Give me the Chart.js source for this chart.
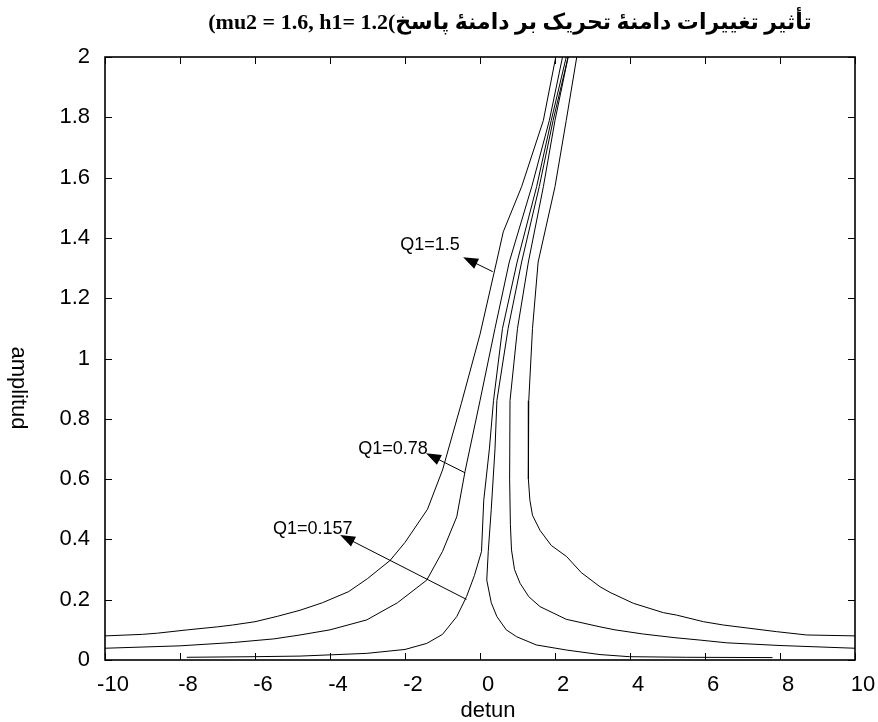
<!DOCTYPE html>
<html>
<head>
<meta charset="utf-8">
<title>amplitud - detun</title>
<script src="https://cdn.jsdelivr.net/npm/chart.js@4.4.1/dist/chart.umd.min.js"></script>
<style>
    html, body { margin: 0; padding: 0; background: #fff; }
</style>
</head>
<body>
<canvas id="response-chart" width="878" height="722"></canvas>
<script>
// Q1 = 1.5, left branch
const q15LeftX = [-10, -9, -8.6, -7.8, -7, -6.6, -6, -5.4, -4.8, -4.2, -3.5, -3, -2.4, -2, -1.4, -1, -0.5, 0, 0.44, 0.62, 1.11, 1.69, 2.02];
const q15LeftY = [0.08, 0.085, 0.089, 0.1, 0.11, 0.116, 0.127, 0.145, 0.165, 0.19, 0.227, 0.27, 0.33, 0.39, 0.5, 0.63, 0.85, 1.08, 1.32, 1.42, 1.57, 1.79, 2.0];

// Q1 = 0.78, left branch
const q078LeftX = [-10, -8, -6.58, -5.5, -4.8, -4, -3.02, -2.2, -1.42, -1, -0.62, -0.4, 0, 0.4, 0.78, 1.38, 1.85, 2.2];
const q078LeftY = [0.039, 0.047, 0.058, 0.07, 0.083, 0.1, 0.133, 0.19, 0.265, 0.36, 0.475, 0.625, 0.86, 1.1, 1.32, 1.57, 1.79, 2.0];

// Q1 = 0.157, left branch
const q0157LeftX = [-7.82, -6, -4.8, -3.02, -2, -1.42, -1, -0.62, -0.36, -0.15, 0.04, 0.1, 0.25, 0.36, 0.6, 0.99, 1.51, 1.9, 2.3];
const q0157LeftY = [0.009, 0.011, 0.013, 0.022, 0.035, 0.055, 0.085, 0.144, 0.21, 0.28, 0.36, 0.53, 0.7, 0.86, 1.1, 1.32, 1.57, 1.79, 2.0];

// Q1 = 0.157, right branch (from the top down)
const q0157RightX = [2.35, 1.95, 1.58, 1.11, 0.75, 0.45, 0.4, 0.3, 0.22, 0.18, 0.3, 0.45, 0.7, 0.98, 1.5, 2.31, 3.2, 3.98, 5.5, 7.8];
const q0157RightY = [2.0, 1.79, 1.57, 1.32, 1.1, 0.86, 0.7, 0.5, 0.36, 0.265, 0.19, 0.144, 0.1, 0.077, 0.05, 0.033, 0.018, 0.011, 0.009, 0.008];

// Q1 = 0.78, right branch
const q078RightX = [2.35, 2.0, 1.69, 1.29, 1.0, 0.8, 0.79, 0.81, 0.84, 0.92, 1.07, 1.3, 1.6, 2.3, 3.2, 3.6, 4.36, 5.2, 5.87, 6.58, 8, 10];
const q078RightY = [2.0, 1.79, 1.57, 1.32, 1.1, 0.86, 0.6, 0.45, 0.365, 0.3, 0.254, 0.21, 0.177, 0.135, 0.11, 0.1, 0.086, 0.074, 0.066, 0.057, 0.048, 0.039];

// Q1 = 1.5, right branch
const q15RightX = [2.58, 2.3, 2.0, 1.55, 1.4, 1.3, 1.29, 1.33, 1.4, 1.6, 1.9, 2.31, 2.7, 3.2, 3.47, 4.09, 4.89, 5.24, 5.96, 6.49, 7.2, 7.91, 8.71, 10];
const q15RightY = [2.0, 1.79, 1.57, 1.32, 1.1, 0.86, 0.6, 0.53, 0.48, 0.43, 0.38, 0.343, 0.29, 0.243, 0.224, 0.188, 0.157, 0.149, 0.127, 0.116, 0.105, 0.094, 0.083, 0.08];

const xTicks = [-10, -8, -6, -4, -2, 0, 2, 4, 6, 8, 10];
const yTicks = [0, 0.2, 0.4, 0.6, 0.8, 1, 1.2, 1.4, 1.6, 1.8, 2];

const titleLatin = '(mu2 = 1.6, h1= 1.2(';
const titlePersian = 'تأثیر تغییرات دامنۀ تحریک بر دامنۀ پاسخ';

const branches = [
    [q15LeftX, q15LeftY],
    [q078LeftX, q078LeftY],
    [q0157LeftX, q0157LeftY],
    [q0157RightX, q0157RightY],
    [q078RightX, q078RightY],
    [q15RightX, q15RightY]
];

// text arrows, in data units
const notes = [
    { text: 'Q1=1.5', at: [-2.13, 1.376], tip: [-0.45, 1.336], tail: [0.34, 1.288] },
    { text: 'Q1=0.78', at: [-3.25, 0.70], tip: [-1.44, 0.686], tail: [-0.4, 0.621] },
    { text: 'Q1=0.157', at: [-5.52, 0.434], tip: [-3.73, 0.415], tail: [-0.36, 0.201] }
];

const sans = '"Liberation Sans", Arial, Helvetica, sans-serif';

function drawArrow(ctx, x0, y0, x1, y1) {
    const ang = Math.atan2(y1 - y0, x1 - x0);
    const len = 15, half = 5.5;
    ctx.beginPath();
    ctx.moveTo(x0, y0);
    ctx.lineTo(x1 - Math.cos(ang) * len * 0.8, y1 - Math.sin(ang) * len * 0.8);
    ctx.stroke();
    ctx.beginPath();
    ctx.moveTo(x1, y1);
    ctx.lineTo(x1 - Math.cos(ang) * len - Math.sin(ang) * half, y1 - Math.sin(ang) * len + Math.cos(ang) * half);
    ctx.lineTo(x1 - Math.cos(ang) * len + Math.sin(ang) * half, y1 - Math.sin(ang) * len - Math.cos(ang) * half);
    ctx.closePath();
    ctx.fill();
}

// box, inward ticks and the texts, matlab style
const matlabFrame = {
    id: 'matlabFrame',
    afterDatasetsDraw(chart) {
        const { ctx, chartArea: a, scales: { x, y } } = chart;
        ctx.save();
        ctx.strokeStyle = '#000';
        ctx.lineWidth = 1;
        ctx.beginPath();
        x.ticks.forEach(t => {
            const px = Math.round(x.getPixelForValue(t.value)) + 0.5;
            ctx.moveTo(px, a.bottom); ctx.lineTo(px, a.bottom - 7);
            ctx.moveTo(px, a.top); ctx.lineTo(px, a.top + 7);
        });
        y.ticks.forEach(t => {
            const py = Math.round(y.getPixelForValue(t.value)) + 0.5;
            ctx.moveTo(a.left, py); ctx.lineTo(a.left + 7, py);
            ctx.moveTo(a.right, py); ctx.lineTo(a.right - 7, py);
        });
        ctx.stroke();
        ctx.lineWidth = 1.6;
        ctx.strokeRect(a.left, a.top, a.right - a.left, a.bottom - a.top);

        // annotations
        ctx.fillStyle = '#000';
        ctx.lineWidth = 1;
        ctx.font = '18px ' + sans;
        ctx.textAlign = 'left';
        ctx.textBaseline = 'middle';
        notes.forEach(n => {
            ctx.fillText(n.text, x.getPixelForValue(n.at[0]), y.getPixelForValue(n.at[1]));
            drawArrow(ctx,
                x.getPixelForValue(n.tail[0]), y.getPixelForValue(n.tail[1]),
                x.getPixelForValue(n.tip[0]), y.getPixelForValue(n.tip[1]));
        });

        // axis labels
        ctx.font = '22px ' + sans;
        ctx.textAlign = 'center';
        ctx.fillText('detun', (a.left + a.right) / 2 + 8, 711);
        ctx.save();
        ctx.translate(18, 388);
        ctx.rotate(Math.PI / 2);
        ctx.fillText('amplitud', 0, 0);
        ctx.restore();

        // title
        ctx.direction = 'ltr';
        ctx.font = 'bold 22px "Liberation Serif", "DejaVu Serif", "DejaVu Sans", serif';
        ctx.textAlign = 'center';
        ctx.fillText(titleLatin + '\u200E' + titlePersian, 510, 23);
        ctx.restore();
    }
};

const ctx = document.getElementById('response-chart').getContext('2d');
const responseChart = new Chart(ctx, {
    type: 'scatter',
    data: {
        datasets: branches.map(([xs, ys]) => ({
            data: xs.map((v, i) => ({ x: v, y: ys[i] })),
            showLine: true,
            borderColor: '#000',
            borderWidth: 1,
            pointRadius: 0,
            tension: 0,
            fill: false
        }))
    },
    options: {
        responsive: false,
        animation: false,
        events: [],
        layout: { padding: { top: 57, right: 23, left: 0, bottom: 0 } },
        plugins: {
            legend: { display: false },
            tooltip: { enabled: false },
            title: { display: false }
        },
        scales: {
            x: {
                type: 'linear',
                min: xTicks[0],
                max: xTicks[xTicks.length - 1],
                grid: { display: false },
                border: { display: false },
                afterBuildTicks: s => { s.ticks = xTicks.map(v => ({ value: v })); },
                afterFit: s => { s.height = 62; },
                ticks: {
                    color: '#000',
                    font: { family: sans, size: 22 },
                    padding: 4,
                    labelOffset: 8,
                    maxRotation: 0,
                    callback: v => String(v)
                }
            },
            y: {
                type: 'linear',
                min: yTicks[0],
                max: yTicks[yTicks.length - 1],
                grid: { display: false },
                border: { display: false },
                afterBuildTicks: s => { s.ticks = yTicks.map(v => ({ value: v })); },
                afterFit: s => { s.width = 105; },
                ticks: {
                    color: '#000',
                    font: { family: sans, size: 22 },
                    padding: 7,
                    callback: v => String(+v.toFixed(1))
                }
            }
        }
    },
    plugins: [matlabFrame]
});
</script>
</body>
</html>
